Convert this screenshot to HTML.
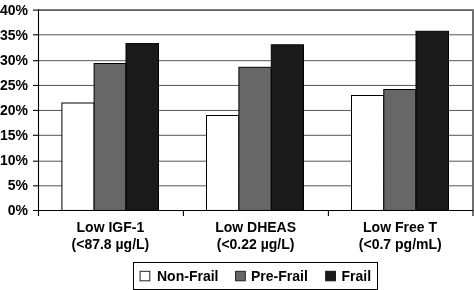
<!DOCTYPE html>
<html>
<head>
<meta charset="utf-8">
<title>Chart</title>
<style>
html,body{margin:0;padding:0;background:#fff;}
body{width:474px;height:290px;overflow:hidden;}
svg{display:block;will-change:transform;}
text{font-family:"Liberation Sans",sans-serif;font-weight:bold;font-size:14px;fill:#000;}
</style>
</head>
<body>
<svg width="474" height="290" viewBox="0 0 474 290">
<rect x="0" y="0" width="474" height="290" fill="#fff"/>
<!-- grid lines -->
<g stroke="#555" stroke-width="1">
<line x1="39" x2="472" y1="34.8" y2="34.8"/>
<line x1="39" x2="472" y1="60.7" y2="60.7"/>
<line x1="39" x2="472" y1="85.45" y2="85.45"/>
<line x1="39" x2="472" y1="110.45" y2="110.45"/>
<line x1="39" x2="472" y1="135.3" y2="135.3"/>
<line x1="39" x2="472" y1="161.2" y2="161.2"/>
<line x1="39" x2="472" y1="185.8" y2="185.8"/>
</g>
<!-- plot border top/right -->
<rect x="38" y="9.35" width="436" height="1.5" fill="#444"/>
<rect x="472" y="10" width="2" height="206" fill="#707070"/>
<!-- bars -->
<g stroke="#000" stroke-width="1">
<rect x="61.9" y="103.0" width="32.2" height="107.45" fill="#fff"/>
<rect x="94.1" y="63.5" width="31.9" height="146.95" fill="#676767"/>
<rect x="126.0" y="43.6" width="32.5" height="166.85" fill="#1a1a1a"/>
<rect x="206.5" y="115.5" width="32.4" height="94.95" fill="#fff"/>
<rect x="238.9" y="67.3" width="32.4" height="143.15" fill="#676767"/>
<rect x="271.3" y="44.8" width="32.2" height="165.65" fill="#1a1a1a"/>
<rect x="351.5" y="95.5" width="32.3" height="114.95" fill="#fff"/>
<rect x="383.8" y="89.5" width="32.2" height="120.95" fill="#676767"/>
<rect x="416.0" y="31.3" width="32.5" height="179.15" fill="#1a1a1a"/>
</g>
<!-- axes -->
<g stroke="#000" stroke-width="1.1">
<line x1="38.5" x2="38.5" y1="9.4" y2="216"/>
<line x1="33" x2="473" y1="210.5" y2="210.5"/>
<line x1="33" x2="38.5" y1="10.1" y2="10.1"/>
<line x1="33" x2="38.5" y1="34.8" y2="34.8"/>
<line x1="33" x2="38.5" y1="60.7" y2="60.7"/>
<line x1="33" x2="38.5" y1="85.45" y2="85.45"/>
<line x1="33" x2="38.5" y1="110.45" y2="110.45"/>
<line x1="33" x2="38.5" y1="135.3" y2="135.3"/>
<line x1="33" x2="38.5" y1="161.2" y2="161.2"/>
<line x1="33" x2="38.5" y1="185.8" y2="185.8"/>
<line x1="183.4" x2="183.4" y1="210" y2="216"/>
<line x1="328.4" x2="328.4" y1="210" y2="216"/>
</g>
<!-- y labels -->
<g text-anchor="end">
<text x="28" y="14.7">40%</text>
<text x="28" y="39.7">35%</text>
<text x="28" y="65">30%</text>
<text x="28" y="90">25%</text>
<text x="28" y="115">20%</text>
<text x="28" y="140">15%</text>
<text x="28" y="165">10%</text>
<text x="28" y="190">5%</text>
<text x="28" y="215">0%</text>
</g>
<!-- x labels -->
<g text-anchor="middle">
<text x="110.4" y="231.7">Low IGF-1</text>
<text x="110.4" y="249">(&lt;87.8 µg/L)</text>
<text x="255.6" y="231.7">Low DHEAS</text>
<text x="255.6" y="249">(&lt;0.22 µg/L)</text>
<text x="400" y="231.7">Low Free T</text>
<text x="400.3" y="249">(&lt;0.7 pg/mL)</text>
</g>
<!-- legend -->
<rect x="133.5" y="262.5" width="244" height="27" fill="#fff" stroke="#000" stroke-width="1"/>
<rect x="140.1" y="271.3" width="9.7" height="9.5" fill="#fff" stroke="#222" stroke-width="1"/>
<text x="157" y="280.5">Non-Frail</text>
<rect x="235.6" y="271.3" width="9.7" height="9.5" fill="#676767" stroke="#222" stroke-width="1"/>
<text x="251" y="280.5">Pre-Frail</text>
<rect x="325.7" y="271.3" width="9.7" height="9.5" fill="#1a1a1a" stroke="#111" stroke-width="1"/>
<text x="341.5" y="280.5">Frail</text>
</svg>
</body>
</html>
